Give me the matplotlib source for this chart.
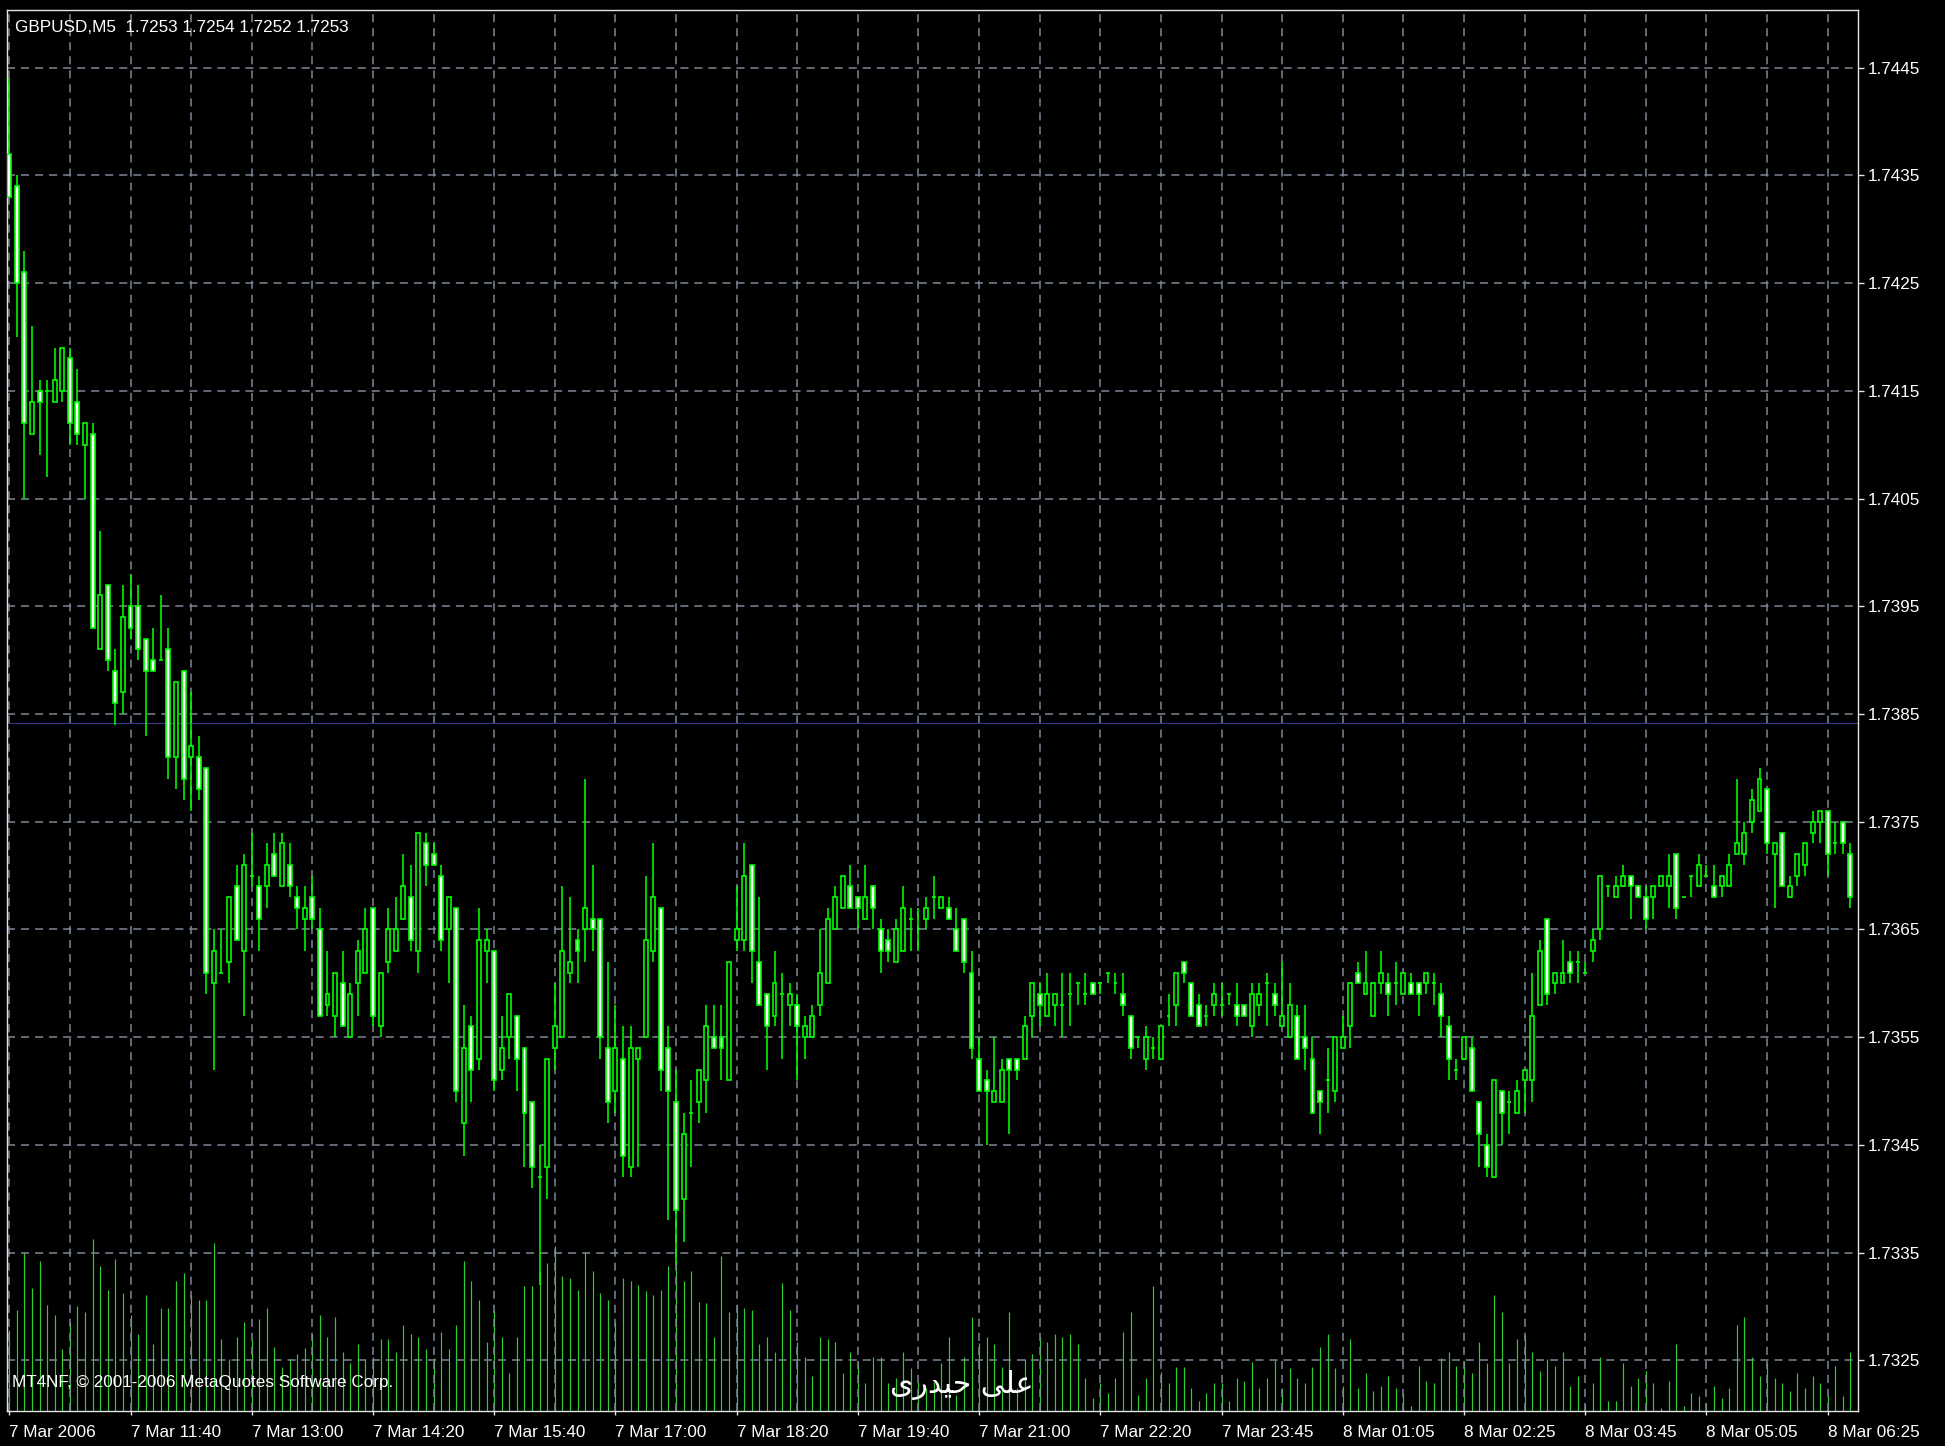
import matplotlib
matplotlib.use('Agg')
import matplotlib.pyplot as plt
import numpy as np

plt.rcParams['lines.scale_dashes'] = False

# ---- data (GBPUSD M5) ----
symbol_line = 'GBPUSD,M5  1.7253 1.7254 1.7252 1.7253'
copyright_line = 'MT4NF, \u00a9 2001-2006 MetaQuotes Software Corp.'
# "علی حیدری" written with Arabic presentation forms in visual order
watermark = '\uFBFC\uFEAD\uFEAA\uFBFF\uFEA3 \uFBFD\uFEE0\uFECB'

opens = [
    1.7437, 1.7434, 1.7426, 1.7411, 1.7415, 1.7415, 1.7414, 1.7415, 1.7418, 1.7414, 1.7410, 1.7411,
    1.7391, 1.7397, 1.7389, 1.7387, 1.7395, 1.7395, 1.7392, 1.7390, 1.7390, 1.7391, 1.7381, 1.7389,
    1.7381, 1.7381, 1.7380, 1.7360, 1.7361, 1.7362, 1.7369, 1.7363, 1.7370, 1.7369, 1.7369, 1.7372,
    1.7369, 1.7371, 1.7368, 1.7366, 1.7368, 1.7365, 1.7358, 1.7357, 1.7360, 1.7355, 1.7360, 1.7361,
    1.7367, 1.7356, 1.7362, 1.7363, 1.7366, 1.7368, 1.7363, 1.7373, 1.7372, 1.7370, 1.7365, 1.7367,
    1.7347, 1.7356, 1.7353, 1.7363, 1.7363, 1.7352, 1.7355, 1.7357, 1.7354, 1.7349, 1.7342, 1.7343,
    1.7354, 1.7355, 1.7361, 1.7364, 1.7365, 1.7366, 1.7366, 1.7354, 1.7350, 1.7353, 1.7343, 1.7353,
    1.7355, 1.7363, 1.7367, 1.7354, 1.7349, 1.7340, 1.7348, 1.7349, 1.7351, 1.7355, 1.7355, 1.7351,
    1.7364, 1.7364, 1.7371, 1.7362, 1.7359, 1.7357, 1.7359, 1.7358, 1.7358, 1.7355, 1.7355, 1.7358,
    1.7360, 1.7365, 1.7367, 1.7369, 1.7368, 1.7366, 1.7369, 1.7365, 1.7364, 1.7362, 1.7363, 1.7366,
    1.7365, 1.7366, 1.7368, 1.7367, 1.7367, 1.7365, 1.7366, 1.7361, 1.7353, 1.7351, 1.7349, 1.7349,
    1.7353, 1.7353, 1.7353, 1.7357, 1.7359, 1.7357, 1.7358, 1.7358, 1.7359, 1.7360, 1.7359, 1.7360,
    1.7360, 1.7361, 1.7360, 1.7359, 1.7357, 1.7355, 1.7353, 1.7354, 1.7353, 1.7357, 1.7358, 1.7362,
    1.7360, 1.7358, 1.7357, 1.7358, 1.7358, 1.7359, 1.7358, 1.7358, 1.7356, 1.7358, 1.7360, 1.7359,
    1.7356, 1.7355, 1.7357, 1.7355, 1.7353, 1.7350, 1.7351, 1.7350, 1.7354, 1.7356, 1.7361, 1.7359,
    1.7357, 1.7360, 1.7360, 1.7360, 1.7359, 1.7360, 1.7360, 1.7360, 1.7360, 1.7359, 1.7356, 1.7352,
    1.7353, 1.7354, 1.7349, 1.7345, 1.7342, 1.7350, 1.7349, 1.7348, 1.7351, 1.7351, 1.7358, 1.7366,
    1.7360, 1.7360, 1.7362, 1.7362, 1.7361, 1.7363, 1.7365, 1.7369, 1.7368, 1.7369, 1.7370, 1.7369,
    1.7368, 1.7368, 1.7369, 1.7369, 1.7372, 1.7368, 1.7370, 1.7369, 1.7370, 1.7369, 1.7369, 1.7369,
    1.7372, 1.7372, 1.7375, 1.7376, 1.7378, 1.7372, 1.7374, 1.7368, 1.7370, 1.7371, 1.7374, 1.7375,
    1.7376, 1.7373, 1.7375, 1.7372,
]
highs = [
    1.7444, 1.7435, 1.7428, 1.7421, 1.7416, 1.7416, 1.7419, 1.7419, 1.7419, 1.7417, 1.7412, 1.7412,
    1.7402, 1.7397, 1.7391, 1.7397, 1.7398, 1.7397, 1.7392, 1.7393, 1.7396, 1.7393, 1.7388, 1.7389,
    1.7387, 1.7383, 1.7380, 1.7365, 1.7365, 1.7368, 1.7371, 1.7372, 1.7374, 1.7370, 1.7373, 1.7374,
    1.7374, 1.7373, 1.7369, 1.7369, 1.7370, 1.7367, 1.7363, 1.7361, 1.7363, 1.7360, 1.7364, 1.7367,
    1.7367, 1.7361, 1.7367, 1.7368, 1.7372, 1.7371, 1.7374, 1.7374, 1.7373, 1.7371, 1.7368, 1.7367,
    1.7358, 1.7357, 1.7367, 1.7365, 1.7363, 1.7357, 1.7359, 1.7357, 1.7354, 1.7349, 1.7345, 1.7353,
    1.7360, 1.7369, 1.7368, 1.7365, 1.7379, 1.7371, 1.7366, 1.7362, 1.7358, 1.7356, 1.7356, 1.7354,
    1.7370, 1.7373, 1.7367, 1.7356, 1.7352, 1.7348, 1.7351, 1.7352, 1.7358, 1.7358, 1.7358, 1.7362,
    1.7369, 1.7373, 1.7371, 1.7368, 1.7359, 1.7363, 1.7361, 1.7360, 1.7359, 1.7357, 1.7358, 1.7365,
    1.7367, 1.7369, 1.7370, 1.7371, 1.7368, 1.7371, 1.7369, 1.7366, 1.7365, 1.7366, 1.7369, 1.7367,
    1.7367, 1.7368, 1.7370, 1.7368, 1.7368, 1.7367, 1.7366, 1.7363, 1.7355, 1.7352, 1.7355, 1.7353,
    1.7353, 1.7353, 1.7357, 1.7360, 1.7360, 1.7361, 1.7359, 1.7361, 1.7361, 1.7360, 1.7361, 1.7360,
    1.7360, 1.7361, 1.7361, 1.7361, 1.7357, 1.7355, 1.7356, 1.7355, 1.7356, 1.7359, 1.7361, 1.7362,
    1.7360, 1.7359, 1.7358, 1.7360, 1.7360, 1.7359, 1.7360, 1.7358, 1.7360, 1.7360, 1.7361, 1.7360,
    1.7362, 1.7360, 1.7358, 1.7358, 1.7355, 1.7350, 1.7354, 1.7355, 1.7357, 1.7360, 1.7362, 1.7363,
    1.7360, 1.7363, 1.7361, 1.7362, 1.7361, 1.7361, 1.7360, 1.7361, 1.7361, 1.7360, 1.7357, 1.7353,
    1.7355, 1.7355, 1.7349, 1.7346, 1.7351, 1.7350, 1.7350, 1.7351, 1.7352, 1.7361, 1.7364, 1.7366,
    1.7361, 1.7364, 1.7363, 1.7363, 1.7362, 1.7365, 1.7370, 1.7369, 1.7370, 1.7371, 1.7370, 1.7369,
    1.7369, 1.7369, 1.7370, 1.7372, 1.7372, 1.7368, 1.7370, 1.7372, 1.7371, 1.7371, 1.7370, 1.7372,
    1.7379, 1.7375, 1.7378, 1.7380, 1.7378, 1.7373, 1.7374, 1.7370, 1.7372, 1.7373, 1.7376, 1.7376,
    1.7376, 1.7375, 1.7375, 1.7373,
]
lows = [
    1.7433, 1.7420, 1.7405, 1.7411, 1.7409, 1.7407, 1.7414, 1.7414, 1.7410, 1.7410, 1.7405, 1.7393,
    1.7391, 1.7389, 1.7384, 1.7385, 1.7392, 1.7390, 1.7383, 1.7389, 1.7390, 1.7379, 1.7378, 1.7377,
    1.7376, 1.7377, 1.7359, 1.7352, 1.7361, 1.7360, 1.7364, 1.7357, 1.7369, 1.7363, 1.7367, 1.7370,
    1.7369, 1.7368, 1.7365, 1.7363, 1.7365, 1.7357, 1.7357, 1.7355, 1.7356, 1.7355, 1.7357, 1.7361,
    1.7356, 1.7355, 1.7361, 1.7363, 1.7366, 1.7363, 1.7361, 1.7369, 1.7371, 1.7363, 1.7360, 1.7349,
    1.7344, 1.7349, 1.7352, 1.7360, 1.7350, 1.7351, 1.7353, 1.7350, 1.7343, 1.7341, 1.7332, 1.7340,
    1.7352, 1.7355, 1.7360, 1.7360, 1.7362, 1.7363, 1.7353, 1.7347, 1.7348, 1.7342, 1.7342, 1.7343,
    1.7355, 1.7362, 1.7350, 1.7338, 1.7334, 1.7336, 1.7343, 1.7347, 1.7348, 1.7354, 1.7351, 1.7351,
    1.7363, 1.7363, 1.7360, 1.7358, 1.7352, 1.7356, 1.7353, 1.7356, 1.7351, 1.7353, 1.7355, 1.7357,
    1.7360, 1.7365, 1.7367, 1.7367, 1.7365, 1.7366, 1.7365, 1.7361, 1.7362, 1.7362, 1.7363, 1.7363,
    1.7363, 1.7365, 1.7366, 1.7367, 1.7366, 1.7363, 1.7361, 1.7353, 1.7350, 1.7345, 1.7349, 1.7349,
    1.7346, 1.7351, 1.7353, 1.7355, 1.7356, 1.7357, 1.7356, 1.7355, 1.7356, 1.7358, 1.7358, 1.7359,
    1.7359, 1.7360, 1.7359, 1.7357, 1.7353, 1.7354, 1.7352, 1.7353, 1.7353, 1.7356, 1.7356, 1.7360,
    1.7357, 1.7356, 1.7356, 1.7357, 1.7357, 1.7358, 1.7356, 1.7357, 1.7355, 1.7357, 1.7356, 1.7357,
    1.7356, 1.7355, 1.7353, 1.7352, 1.7348, 1.7346, 1.7348, 1.7349, 1.7354, 1.7354, 1.7360, 1.7359,
    1.7357, 1.7359, 1.7357, 1.7358, 1.7359, 1.7359, 1.7357, 1.7359, 1.7358, 1.7355, 1.7351, 1.7351,
    1.7353, 1.7350, 1.7343, 1.7342, 1.7342, 1.7345, 1.7346, 1.7348, 1.7348, 1.7349, 1.7358, 1.7358,
    1.7359, 1.7360, 1.7360, 1.7360, 1.7361, 1.7362, 1.7364, 1.7368, 1.7368, 1.7369, 1.7366, 1.7368,
    1.7365, 1.7366, 1.7369, 1.7367, 1.7366, 1.7368, 1.7368, 1.7369, 1.7370, 1.7368, 1.7368, 1.7369,
    1.7372, 1.7371, 1.7374, 1.7376, 1.7372, 1.7367, 1.7369, 1.7368, 1.7369, 1.7370, 1.7373, 1.7373,
    1.7370, 1.7372, 1.7372, 1.7367,
]
closes = [
    1.7433, 1.7425, 1.7412, 1.7414, 1.7414, 1.7415, 1.7416, 1.7419, 1.7412, 1.7411, 1.7412, 1.7393,
    1.7396, 1.7390, 1.7386, 1.7394, 1.7393, 1.7391, 1.7389, 1.7389, 1.7390, 1.7381, 1.7388, 1.7379,
    1.7382, 1.7378, 1.7361, 1.7363, 1.7361, 1.7368, 1.7364, 1.7371, 1.7370, 1.7366, 1.7371, 1.7370,
    1.7373, 1.7369, 1.7367, 1.7367, 1.7366, 1.7357, 1.7359, 1.7361, 1.7356, 1.7359, 1.7363, 1.7365,
    1.7357, 1.7361, 1.7365, 1.7365, 1.7369, 1.7364, 1.7374, 1.7371, 1.7371, 1.7364, 1.7368, 1.7350,
    1.7354, 1.7352, 1.7364, 1.7364, 1.7351, 1.7354, 1.7359, 1.7353, 1.7348, 1.7343, 1.7342, 1.7353,
    1.7356, 1.7363, 1.7362, 1.7363, 1.7367, 1.7365, 1.7355, 1.7349, 1.7354, 1.7344, 1.7354, 1.7354,
    1.7364, 1.7368, 1.7352, 1.7350, 1.7339, 1.7346, 1.7348, 1.7352, 1.7356, 1.7354, 1.7354, 1.7362,
    1.7365, 1.7370, 1.7363, 1.7358, 1.7356, 1.7360, 1.7359, 1.7359, 1.7356, 1.7356, 1.7357, 1.7361,
    1.7366, 1.7368, 1.7370, 1.7367, 1.7367, 1.7368, 1.7367, 1.7363, 1.7363, 1.7365, 1.7367, 1.7366,
    1.7365, 1.7367, 1.7368, 1.7368, 1.7366, 1.7363, 1.7362, 1.7354, 1.7350, 1.7350, 1.7350, 1.7352,
    1.7352, 1.7352, 1.7356, 1.7360, 1.7358, 1.7359, 1.7359, 1.7358, 1.7359, 1.7360, 1.7359, 1.7359,
    1.7360, 1.7361, 1.7360, 1.7358, 1.7354, 1.7355, 1.7355, 1.7354, 1.7356, 1.7357, 1.7361, 1.7361,
    1.7357, 1.7356, 1.7357, 1.7359, 1.7358, 1.7359, 1.7357, 1.7357, 1.7359, 1.7359, 1.7360, 1.7358,
    1.7357, 1.7358, 1.7353, 1.7354, 1.7348, 1.7349, 1.7351, 1.7355, 1.7355, 1.7360, 1.7360, 1.7360,
    1.7360, 1.7361, 1.7359, 1.7360, 1.7361, 1.7359, 1.7359, 1.7361, 1.7360, 1.7357, 1.7353, 1.7352,
    1.7355, 1.7350, 1.7346, 1.7343, 1.7351, 1.7348, 1.7349, 1.7350, 1.7352, 1.7357, 1.7363, 1.7359,
    1.7361, 1.7361, 1.7361, 1.7362, 1.7361, 1.7364, 1.7370, 1.7369, 1.7369, 1.7370, 1.7369, 1.7368,
    1.7366, 1.7369, 1.7370, 1.7370, 1.7367, 1.7368, 1.7370, 1.7371, 1.7370, 1.7368, 1.7370, 1.7371,
    1.7373, 1.7374, 1.7377, 1.7379, 1.7373, 1.7373, 1.7369, 1.7369, 1.7372, 1.7373, 1.7375, 1.7376,
    1.7372, 1.7373, 1.7373, 1.7368,
]
volumes = [
    81, 101, 159, 123, 150, 106, 96, 62, 89, 105, 99, 172, 145, 121, 152, 118, 96, 77, 116, 67,
    103, 103, 130, 138, 116, 111, 111, 168, 72, 52, 74, 89, 71, 92, 103, 64, 44, 52, 57, 63,
    77, 96, 74, 94, 59, 48, 67, 52, 54, 72, 72, 59, 86, 77, 74, 62, 53, 79, 62, 86,
    150, 130, 111, 69, 101, 74, 38, 74, 125, 125, 140, 148, 165, 135, 133, 121, 159, 140, 118, 111,
    89, 133, 130, 126, 120, 116, 121, 145, 150, 130, 140, 109, 108, 74, 155, 99, 106, 103, 101, 67,
    74, 59, 128, 101, 69, 54, 35, 74, 72, 69, 38, 59, 49, 28, 54, 54, 28, 33, 59, 43,
    29, 23, 29, 48, 74, 16, 54, 94, 68, 74, 67, 44, 99, 23, 52, 57, 74, 69, 77, 74,
    77, 67, 33, 13, 28, 18, 33, 79, 99, 16, 33, 125, 39, 28, 44, 44, 23, 10, 18, 28,
    28, 10, 33, 30, 49, 23, 33, 51, 23, 43, 33, 28, 44, 64, 77, 43, 25, 72, 23, 38,
    20, 25, 35, 23, 18, 5, 45, 30, 28, 53, 59, 45, 50, 38, 69, 48, 116, 99, 48, 72,
    76, 59, 40, 52, 45, 59, 25, 35, 6, 28, 54, 10, 10, 48, 25, 33, 40, 28, 3, 30,
    67, 5, 18, 15, 8, 25, 13, 23, 86, 94, 54, 35, 48, 33, 28, 20, 38, 23, 35, 28,
    15, 45, 15, 59,
]
time_labels = ['7 Mar 2006', '7 Mar 11:40', '7 Mar 13:00', '7 Mar 14:20', '7 Mar 15:40',
               '7 Mar 17:00', '7 Mar 18:20', '7 Mar 19:40', '7 Mar 21:00', '7 Mar 22:20',
               '7 Mar 23:45', '8 Mar 01:05', '8 Mar 02:25', '8 Mar 03:45', '8 Mar 05:05',
               '8 Mar 06:25']
price_ticks = [1.7325, 1.7335, 1.7345, 1.7355, 1.7365, 1.7375, 1.7385,
               1.7395, 1.7405, 1.7415, 1.7425, 1.7435, 1.7445]
hline_price = 1.73842

# ---- style ----
GREEN = '#00FF00'
VOL_GREEN = '#32CD32'
GRID = '#7D8896'
FRAME = '#E4E4E4'
FONT = ['Liberation Sans', 'DejaVu Sans']
FS = 12.3
dash = (0, (5.8, 4.3))

o = np.array(opens); h = np.array(highs); l = np.array(lows); c = np.array(closes)
x = np.arange(len(o))
up = c >= o

fig = plt.figure(figsize=(19.45, 14.46), dpi=100, facecolor='black')
W, H = 1945.0, 1446.0
ax = fig.add_axes([7.0 / W, 1 - 1411 / H, (1858 - 7.0) / W, (1411 - 10) / H])
axv = ax.twinx()
ax.set_zorder(axv.get_zorder() + 1)
ax.patch.set_visible(False)

# volumes at the bottom of the price window
axv.vlines(x, 0, volumes, color=VOL_GREEN, lw=0.85)
axv.set_ylim(0, 1401)
axv.set_axis_off()

# candles
ax.axhline(hline_price, color='#3A3A8C', lw=0.8, zorder=1)
ax.vlines(x, l, h, color=GREEN, lw=1.15, zorder=2)
ax.bar(x, np.abs(c - o), bottom=np.minimum(o, c), width=0.52,
       color=np.where(up, 'black', 'white'), edgecolor=GREEN, linewidth=1.2, zorder=3)

ax.set_xlim(-0.3, 244.0)
ax.set_ylim(1.732031, 1.745034)

ax.set_xticks(np.arange(0, 241, 16))
ax.set_xticklabels(time_labels, ha='left', family=FONT, fontsize=FS, color='white')
ax.set_xticks(np.arange(8, 244, 16), minor=True)
ax.yaxis.tick_right()
ax.set_yticks(price_ticks)
ax.set_yticklabels(['%.4f' % p for p in price_ticks], family=FONT, fontsize=FS, color='white')
ax.tick_params(axis='x', which='major', direction='out', length=3, width=1, color=FRAME, pad=7)
ax.tick_params(axis='x', which='minor', length=0)
ax.tick_params(axis='y', direction='out', length=4.3, width=1, color=FRAME, pad=3)

ax.grid(True, axis='x', which='both', color=GRID, lw=1.1, linestyle=dash)
ax.grid(True, axis='y', which='major', color=GRID, lw=1.1, linestyle=dash)
ax.set_axisbelow(True)
for s in ax.spines.values():
    s.set_color(FRAME)
    s.set_linewidth(1.0)

# texts
fig.text(15 / W, 1 - 28 / H, symbol_line, color='white', family=FONT, fontsize=FS,
         ha='left', va='center')
fig.text(12 / W, 1 - 1382 / H, copyright_line, color='white', family=FONT, fontsize=FS,
         ha='left', va='center')
fig.text(962 / W, 1 - 1385 / H, watermark, color='white', family='DejaVu Sans', fontsize=21.5,
         ha='center', va='center')

fig.savefig('out.png', dpi=100, facecolor='black')
